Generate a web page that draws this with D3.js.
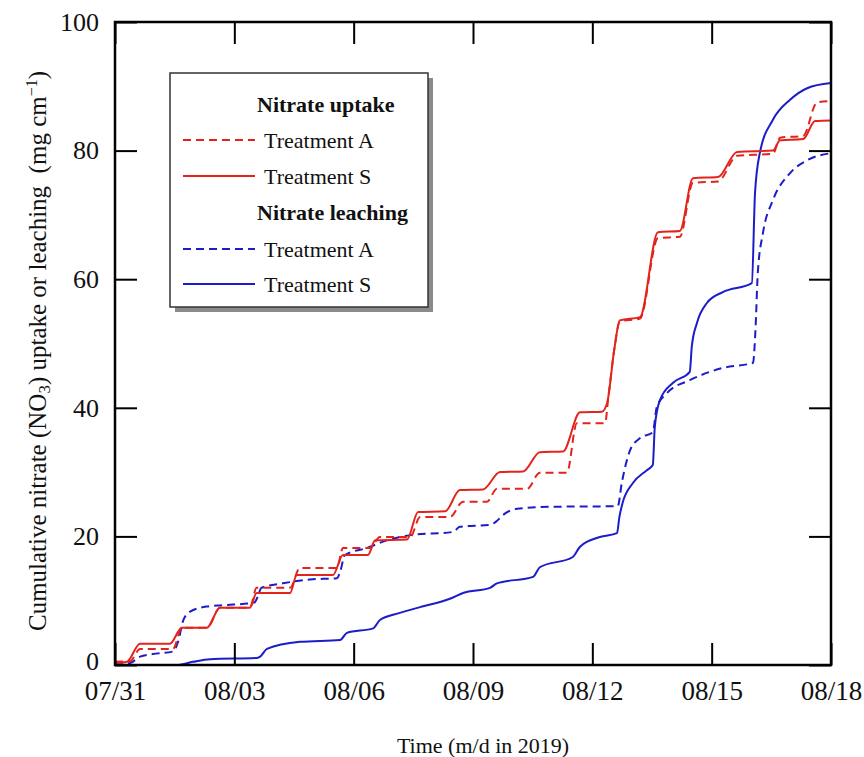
<!DOCTYPE html>
<html>
<head>
<meta charset="utf-8">
<script src="https://cdn.jsdelivr.net/npm/d3@7"></script>
<style>
  body { margin: 0; background: #fff; }
  svg text { font-family: "Liberation Serif", "DejaVu Serif", serif; fill: #111; }
</style>
</head>
<body>
<svg id="chart" width="864" height="757"></svg>
<script>
// days after 07/31/2019, cumulative value (mg cm-1)
const uptakeA = [[0,0.5],[0.38,0.6],[0.63,2.5],[1.46,2.5],[1.68,5.8],[2.31,5.8],[2.64,8.9],[3.39,8.9],[3.56,12.0],[4.40,12.0],[4.65,15.1],[5.58,15.1],[5.73,18.2],[6.41,18.2],[6.66,19.9],[7.42,19.9],[7.67,23.0],[8.42,23.0],[8.75,25.4],[9.35,25.4],[9.60,27.4],[10.36,27.4],[10.68,29.9],[11.36,29.9],[11.61,37.6],[12.32,37.6],[12.40,41.5],[12.55,49.0],[12.69,53.4],[13.20,53.9],[13.65,66.4],[14.20,66.6],[14.53,75.0],[15.16,75.2],[15.64,79.2],[16.54,79.5],[16.72,82.0],[17.30,82.3],[17.65,87.5],[18,87.7]];
const uptakeS = [[0,0.3],[0.30,0.5],[0.63,3.3],[1.38,3.3],[1.68,5.8],[2.31,5.8],[2.64,8.9],[3.39,8.9],[3.56,11.2],[4.40,11.2],[4.57,14.0],[5.48,14.0],[5.73,17.1],[6.36,17.1],[6.54,19.4],[7.34,19.5],[7.62,23.8],[8.30,23.9],[8.67,27.2],[9.25,27.3],[9.68,30.0],[10.26,30.1],[10.68,33.1],[11.26,33.2],[11.69,39.3],[12.24,39.4],[12.37,40.7],[12.55,49.0],[12.69,53.6],[13.20,54.1],[13.65,67.3],[14.20,67.5],[14.53,75.7],[15.16,75.9],[15.64,79.8],[16.54,80.0],[16.72,81.6],[17.30,81.8],[17.60,84.6],[18,84.7]];
const leachA = [[0,0],[0.38,0.3],[0.63,1.3],[0.95,1.7],[1.46,2.1],[1.58,3.5],[1.72,7.0],[1.89,8.3],[2.31,9.1],[2.71,9.3],[3.50,9.7],[3.58,10.5],[3.68,12.0],[4.22,12.7],[4.90,13.3],[5.58,13.5],[5.66,14.5],[5.78,17.1],[6.33,18.2],[6.84,19.4],[7.42,20.2],[8.50,20.7],[8.67,21.5],[9.43,21.8],[9.60,22.4],[9.75,23.3],[10.11,24.3],[10.94,24.6],[12.64,24.7],[12.74,28.3],[12.95,33.4],[13.20,35.3],[13.52,36.2],[13.62,40.1],[13.88,42.3],[14.45,44.3],[15.28,46.2],[16.04,47.0],[16.10,52.0],[16.16,61.0],[16.29,67.2],[16.54,72.3],[16.97,76.5],[17.40,78.5],[18,79.6]];
const leachS = [[0,0],[1.56,0],[1.96,0.5],[2.39,0.9],[3.57,1.1],[3.65,1.3],[3.82,2.5],[4.65,3.6],[5.66,3.9],[5.83,5.0],[6.49,5.7],[6.66,7.0],[7.16,8.1],[7.67,9.0],[8.42,10.3],[8.75,11.2],[9.43,12.0],[9.60,12.7],[10.51,13.7],[10.68,15.2],[11.51,16.8],[11.69,18.4],[12.19,19.9],[12.62,20.5],[12.68,23.0],[12.76,25.2],[13.02,28.3],[13.37,30.3],[13.52,31.1],[13.57,37.0],[13.70,41.2],[14.03,43.9],[14.45,45.6],[14.50,49.5],[14.63,53.2],[14.88,56.3],[15.28,58.0],[16.01,59.4],[16.09,73.4],[16.21,79.6],[16.54,84.8],[16.97,87.9],[17.40,89.7],[18,90.5]];

const xTickDays = [0, 3, 6, 9, 12, 15, 18];
const xTickLabels = ["07/31", "08/03", "08/06", "08/09", "08/12", "08/15", "08/18"];
const yTicks = [0, 20, 40, 60, 80, 100];

const seriesNames = ["Treatment A", "Treatment S", "Treatment A", "Treatment S"];
const groupNames = ["Nitrate uptake", "Nitrate leaching"];

const red = "#e3241c", blue = "#1c1cc8";

const svg = d3.select("#chart");
const mLeft = 115, mRight = 831, mTop = 22, mBottom = 665;

const x = d3.scaleLinear().domain([0, 18]).range([mLeft, mRight]);
const y = d3.scaleLinear().domain([0, 100]).range([mBottom, mTop]);

// clip
svg.append("clipPath").attr("id", "plotclip")
  .append("rect").attr("x", mLeft).attr("y", mTop).attr("width", mRight - mLeft).attr("height", mBottom - mTop);

const line = d3.line()
  .x(d => x(d[0]))
  .y(d => y(d[1]))
  .curve(d3.curveMonotoneX);

const lines = [
  { data: leachA, color: blue, dash: "8,5" },
  { data: leachS, color: blue, dash: null },
  { data: uptakeA, color: red, dash: "8,5" },
  { data: uptakeS, color: red, dash: null }
];

const g = svg.append("g").attr("clip-path", "url(#plotclip)");
lines.forEach(l => {
  g.append("path")
    .attr("d", line(l.data))
    .attr("fill", "none")
    .attr("stroke", l.color)
    .attr("stroke-width", 2)
    .attr("stroke-dasharray", l.dash);
});

// axes with inward ticks
const xAxis = d3.axisBottom(x).tickValues(xTickDays)
  .tickFormat((d, i) => xTickLabels[i]).tickSize(-22).tickPadding(16);
const yAxis = d3.axisLeft(y).tickValues(yTicks).tickSize(-22).tickPadding(16);

const gx = svg.append("g").attr("transform", `translate(0,${mBottom})`).call(xAxis);
const gy = svg.append("g").attr("transform", `translate(${mLeft},0)`).call(yAxis);
svg.append("g").attr("transform", `translate(0,${mTop})`)
  .call(d3.axisTop(x).tickValues(xTickDays).tickSize(-22).tickFormat(""));
svg.append("g").attr("transform", `translate(${mRight},0)`)
  .call(d3.axisRight(y).tickValues(yTicks).tickSize(-22).tickFormat(""));

svg.selectAll(".domain").remove();
svg.selectAll(".tick line").attr("stroke", "#000").attr("stroke-width", 2);
gx.selectAll("text").attr("font-size", 27).style("font-family", "Liberation Serif");
gy.selectAll("text").attr("font-size", 26).style("font-family", "Liberation Serif");
// nudge the "0" label up a little so it clears "07/31"
gy.selectAll(".tick text").filter(d => d === 0).attr("y", -4);

svg.append("rect")
  .attr("x", mLeft).attr("y", mTop)
  .attr("width", mRight - mLeft).attr("height", mBottom - mTop)
  .attr("fill", "none").attr("stroke", "#000").attr("stroke-width", 2.5);

// axis titles
svg.append("text")
  .attr("x", (mLeft + mRight) / 2 + 10).attr("y", 753)
  .attr("text-anchor", "middle").attr("font-size", 22)
  .text("Time (m/d in 2019)");

const yt = svg.append("text")
  .attr("transform", "translate(46,351) rotate(-90)")
  .attr("text-anchor", "middle").attr("font-size", 25);
yt.append("tspan").text("Cumulative nitrate (NO");
yt.append("tspan").attr("font-size", 17).attr("dy", 4).text("3");
yt.append("tspan").attr("dy", -4).text(") uptake or leaching\u00a0 (mg cm");
yt.append("tspan").attr("font-size", 16).attr("dy", -9).text("\u22121");
yt.append("tspan").attr("dy", 9).text(")");

// legend
const lg = svg.append("g");
lg.append("rect").attr("x", 175).attr("y", 78).attr("width", 258).attr("height", 234).attr("fill", "#8a8a8a");
lg.append("rect").attr("x", 170).attr("y", 73).attr("width", 258).attr("height", 234)
  .attr("fill", "#fff").attr("stroke", "#333").attr("stroke-width", 1.5);

const rowsY = [104, 140, 176, 212, 249, 284];
const rows = [
  { type: "head", text: groupNames[0] },
  { type: "line", text: seriesNames[0], color: red, dash: "8,5" },
  { type: "line", text: seriesNames[1], color: red, dash: null },
  { type: "head", text: groupNames[1] },
  { type: "line", text: seriesNames[2], color: blue, dash: "8,5" },
  { type: "line", text: seriesNames[3], color: blue, dash: null }
];
rows.forEach((r, i) => {
  const yy = rowsY[i];
  if (r.type === "head") {
    lg.append("text").attr("x", 257).attr("y", yy).attr("dy", "0.35em")
      .attr("font-size", 22).attr("font-weight", "bold").text(r.text);
  } else {
    lg.append("line").attr("x1", 183).attr("x2", 255).attr("y1", yy).attr("y2", yy)
      .attr("stroke", r.color).attr("stroke-width", 2).attr("stroke-dasharray", r.dash);
    lg.append("text").attr("x", 264).attr("y", yy).attr("dy", "0.35em")
      .attr("font-size", 22).text(r.text);
  }
});
</script>
</body>
</html>
